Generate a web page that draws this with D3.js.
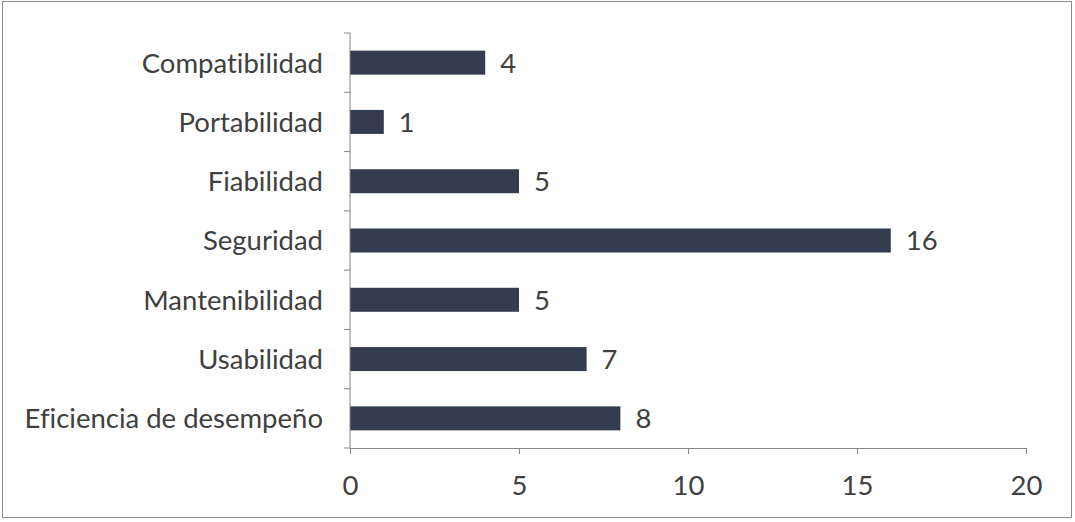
<!DOCTYPE html>
<html>
<head>
<meta charset="utf-8">
<script src="https://cdn.jsdelivr.net/npm/d3@7"></script>
<style>
  body { margin: 0; background: #fff; }
  svg text { font-family: Lato, "Open Sans", sans-serif; fill: #404040; font-variant-ligatures: none; }
</style>
</head>
<body>
<div id="chart"></div>
<script>
// data, top to bottom
const categories = ['Compatibilidad', 'Portabilidad', 'Fiabilidad', 'Seguridad', 'Mantenibilidad', 'Usabilidad', 'Eficiencia de desempeño'];
const values = [4, 1, 5, 16, 5, 7, 8];
const xTicks = [0, 5, 10, 15, 20];

const width = 1075;
const height = 522;
const margin = { top: 33, right: 49, bottom: 74, left: 350 };
const fontSize = 27.5;

const svg = d3.select('#chart')
  .append('svg')
  .attr('width', width)
  .attr('height', height);

// outer frame
svg.append('rect')
  .attr('x', 2.5)
  .attr('y', 1.5)
  .attr('width', 1069)
  .attr('height', 516)
  .attr('fill', '#fff')
  .attr('stroke', '#8c8c8c');

const x = d3.scaleLinear()
  .domain([0, 20])
  .range([margin.left, width - margin.right]);

const y = d3.scaleBand()
  .domain(categories)
  .range([margin.top, height - margin.bottom])
  .paddingInner(0.595)
  .paddingOuter(0.2975);

// bars
svg.append('g')
  .selectAll('rect')
  .data(values)
  .join('rect')
  .attr('x', x(0))
  .attr('y', (d, i) => y(categories[i]))
  .attr('width', d => x(d) - x(0))
  .attr('height', y.bandwidth())
  .attr('fill', '#343d4f');

// value labels
svg.append('g')
  .attr('font-size', fontSize)
  .selectAll('text')
  .data(values)
  .join('text')
  .attr('x', d => x(d) + 15)
  .attr('y', (d, i) => y(categories[i]) + y.bandwidth() / 2)
  .attr('dy', '0.36em')
  .text(d => d);

// y axis: line with ticks at band boundaries
const yAxis = svg.append('g');
yAxis.append('line')
  .attr('x1', x(0)).attr('x2', x(0))
  .attr('y1', margin.top).attr('y2', height - margin.bottom)
  .attr('stroke', '#868686');
const step = y.step();
yAxis.selectAll('line.tick')
  .data(d3.range(categories.length + 1))
  .join('line')
  .attr('class', 'tick')
  .attr('x1', x(0) - 6).attr('x2', x(0))
  .attr('y1', i => margin.top + i * step)
  .attr('y2', i => margin.top + i * step)
  .attr('stroke', '#868686');
yAxis.selectAll('text')
  .data(categories)
  .join('text')
  .attr('x', x(0) - 27)
  .attr('y', d => y(d) + y.bandwidth() / 2)
  .attr('dy', '0.36em')
  .attr('text-anchor', 'end')
  .attr('font-size', fontSize)
  .text(d => d);

// x axis
const xAxis = svg.append('g')
  .attr('transform', `translate(0,${height - margin.bottom})`)
  .call(d3.axisBottom(x).tickValues(xTicks).tickSize(6).tickPadding(20).tickSizeOuter(0));
xAxis.select('.domain').attr('stroke', '#868686');
xAxis.selectAll('.tick line').attr('stroke', '#868686');
xAxis.selectAll('.tick text')
  .attr('y', 37)
  .attr('dy', '0.36em')
  .attr('font-size', fontSize)
  .attr('font-family', null)
  .attr('fill', null);
</script>
</body>
</html>
